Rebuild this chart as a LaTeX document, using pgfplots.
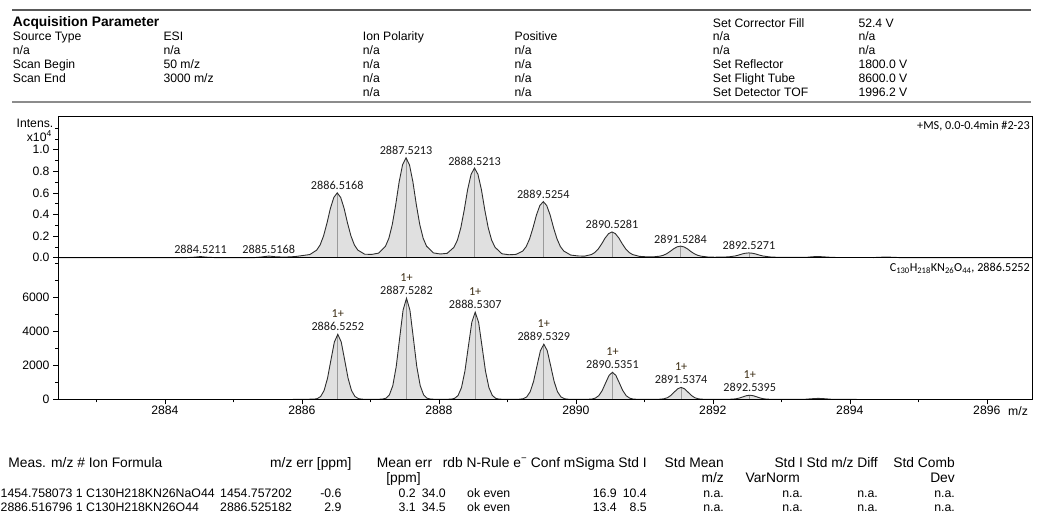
\documentclass[border=0pt]{standalone}
\usepackage{fontspec}
\setmainfont{Liberation Sans}
\newfontfamily\carl{Carlito}
\usepackage{pgfplots}
\usepackage{pgfplotstable}
\pgfplotsset{compat=1.18}

\definecolor{specline}{HTML}{2E2E2E}
\definecolor{specfill}{HTML}{E0E0E0}
\definecolor{stick}{HTML}{9A9A9A}
\definecolor{plusc}{HTML}{3C2D14}

% measured spectrum, intensity x10^4
\pgfplotstableread{
x y
2882.44 0
2884.30 0
2884.42 0.004
2884.52 0.010
2884.62 0.004
2884.75 0
2885.30 0
2885.42 0.007
2885.52 0.015
2885.62 0.008
2885.75 0.005
2885.90 0.010
2886.017 0.020
2886.117 0.029
2886.217 0.070
2886.267 0.118
2886.317 0.201
2886.367 0.320
2886.417 0.457
2886.467 0.558
2886.517 0.600
2886.567 0.558
2886.617 0.457
2886.667 0.320
2886.717 0.201
2886.767 0.118
2886.817 0.070
2886.917 0.032
2887.019 0.030
2887.121 0.042
2887.221 0.106
2887.271 0.180
2887.321 0.309
2887.371 0.493
2887.421 0.704
2887.471 0.861
2887.521 0.925
2887.571 0.861
2887.621 0.704
2887.671 0.493
2887.721 0.309
2887.771 0.180
2887.821 0.106
2887.921 0.044
2888.021 0.034
2888.121 0.040
2888.221 0.096
2888.271 0.162
2888.321 0.277
2888.371 0.442
2888.421 0.632
2888.471 0.772
2888.521 0.830
2888.571 0.772
2888.621 0.632
2888.671 0.442
2888.721 0.277
2888.771 0.162
2888.821 0.096
2888.921 0.036
2889.023 0.027
2889.125 0.030
2889.225 0.061
2889.275 0.102
2889.325 0.174
2889.375 0.277
2889.425 0.395
2889.475 0.483
2889.525 0.519
2889.575 0.483
2889.625 0.395
2889.675 0.277
2889.725 0.174
2889.775 0.102
2889.825 0.061
2889.925 0.024
2890.027 0.016
2890.128 0.014
2890.228 0.029
2890.278 0.048
2890.328 0.081
2890.378 0.128
2890.428 0.182
2890.478 0.222
2890.528 0.238
2890.578 0.222
2890.628 0.182
2890.678 0.128
2890.728 0.081
2890.778 0.048
2890.828 0.029
2890.928 0.012
2891.028 0.008
2891.128 0.007
2891.228 0.014
2891.278 0.022
2891.328 0.037
2891.378 0.058
2891.428 0.082
2891.478 0.100
2891.528 0.107
2891.578 0.100
2891.628 0.082
2891.678 0.058
2891.728 0.037
2891.778 0.022
2891.828 0.014
2891.928 0.006
2892.028 0.004
2892.227 0.007
2892.327 0.016
2892.377 0.024
2892.427 0.034
2892.477 0.041
2892.527 0.044
2892.577 0.041
2892.627 0.034
2892.677 0.024
2892.727 0.016
2892.827 0.007
2892.950 0.003
2893.350 0.002
2893.450 0.008
2893.530 0.011
2893.610 0.008
2893.750 0.002
2894.350 0.001
2894.450 0.004
2894.530 0.006
2894.610 0.004
2894.750 0
2896.66 0
}\measured

% simulated pattern for C130H218KN26O44
\pgfplotstableread{
x y
2885.87 0
2886.175 8
2886.225 42
2886.275 168
2886.325 517
2886.375 1240
2886.425 2317
2886.475 3371
2886.525 3820
2886.575 3371
2886.625 2317
2886.675 1240
2886.725 517
2886.775 168
2886.825 42
2886.875 8
2886.95 0
2887.10 0
2887.178 13
2887.228 66
2887.278 261
2887.328 804
2887.378 1929
2887.428 3603
2887.478 5242
2887.528 5940
2887.578 5242
2887.628 3603
2887.678 1929
2887.728 804
2887.778 261
2887.828 66
2887.878 13
2887.95 0
2888.10 0
2888.181 11
2888.231 57
2888.281 225
2888.331 693
2888.381 1662
2888.431 3105
2888.481 4518
2888.531 5120
2888.581 4518
2888.631 3105
2888.681 1662
2888.731 693
2888.781 225
2888.831 57
2888.881 11
2888.95 0
2889.10 0
2889.183 7
2889.233 36
2889.283 142
2889.333 438
2889.383 1052
2889.433 1965
2889.483 2859
2889.533 3240
2889.583 2859
2889.633 1965
2889.683 1052
2889.733 438
2889.783 142
2889.833 36
2889.883 7
2889.95 0
2890.11 0
2890.185 3
2890.235 18
2890.285 70
2890.335 215
2890.385 516
2890.435 964
2890.485 1403
2890.535 1590
2890.585 1403
2890.635 964
2890.685 516
2890.735 215
2890.785 70
2890.835 18
2890.885 3
2890.95 0
2891.17 0
2891.237 8
2891.287 31
2891.337 95
2891.387 227
2891.437 425
2891.487 618
2891.537 700
2891.587 618
2891.637 425
2891.687 227
2891.737 95
2891.787 31
2891.837 8
2891.90 0
2892.17 0
2892.240 3
2892.290 11
2892.340 32
2892.390 78
2892.440 146
2892.490 212
2892.540 240
2892.590 212
2892.640 146
2892.690 78
2892.740 32
2892.790 11
2892.840 3
2892.90 0
2893.34 0
2893.44 33
2893.54 55
2893.64 33
2893.74 0
2894.10 0
}\simulated

\pgfplotsset{
  specax/.style={
    scale only axis, width=974pt,
    xmin=2882.44, xmax=2896.66,
    axis line style={draw=none},
    tick align=outside, ytick pos=left, xtick pos=left,
    major tick length=5pt, minor tick length=3pt,
    tick style={black, line width=0.6pt},
    tick label style={font=\fontsize{12.2}{14}\selectfont},
    clip mode=individual,
  },
}
\tikzset{
  pk/.style={anchor=base, inner sep=0pt, yshift=3pt,
    font=\carl\fontsize{12.2}{14}\selectfont, text=black!90},
  pk1/.style={anchor=base, inner sep=0pt, yshift=3.6pt,
    font=\carl\fontsize{12.2}{14}\selectfont, text=black!90},
  pkz/.style={anchor=base, inner sep=0pt, yshift=17pt,
    font=\carl\fontsize{12.2}{14}\selectfont, text=plusc},
}

\begin{document}
\begin{tikzpicture}
\path[use as bounding box] (0,0) rectangle (1037pt,-515pt);

\begin{scope}[x=1pt, y=-1pt,
  every node/.style={inner sep=0pt, anchor=base west, font=\fontsize{12.2}{14}\selectfont}]
\draw[black!65, line width=1.3pt] (12,10) -- (1031,10);
\draw[black!45, line width=2pt] (12,102) -- (1031,102);
\node[font=\bfseries\fontsize{13.8}{16}\selectfont] at (12.7,26) {Acquisition Parameter};
\node at (712.7,27.3) {Set Corrector Fill};
\node at (858.3,27.3) {52.4 V};
% row 1
\node at (12.7,40.3) {Source Type};
\node at (163.3,40.3) {ESI};
\node at (362.7,40.3) {Ion Polarity};
\node at (514.5,40.3) {Positive};
\node at (712.7,40.3) {n/a};
\node at (858.3,40.3) {n/a};
% row 2
\node at (12.7,54.3) {n/a};
\node at (163.3,54.3) {n/a};
\node at (362.7,54.3) {n/a};
\node at (514.5,54.3) {n/a};
\node at (712.7,54.3) {n/a};
\node at (858.3,54.3) {n/a};
% row 3
\node at (12.7,68.3) {Scan Begin};
\node at (163.3,68.3) {50 m/z};
\node at (362.7,68.3) {n/a};
\node at (514.5,68.3) {n/a};
\node at (712.7,68.3) {Set Reflector};
\node at (858.3,68.3) {1800.0 V};
% row 4
\node at (12.7,82.3) {Scan End};
\node at (163.3,82.3) {3000 m/z};
\node at (362.7,82.3) {n/a};
\node at (514.5,82.3) {n/a};
\node at (712.7,82.3) {Set Flight Tube};
\node at (858.3,82.3) {8600.0 V};
% row 5
\node at (362.7,96.3) {n/a};
\node at (514.5,96.3) {n/a};
\node at (712.7,96.3) {Set Detector TOF};
\node at (858.3,96.3) {1996.2 V};

% y label of the spectrum
\node[anchor=base east] at (53.5,127.5) {Intens.};
\node[anchor=base east] at (52,141) {x10\textsuperscript{4}};
\node at (1008,415) {m/z};

% results table
\begin{scope}[every node/.append style={font=\fontsize{13.8}{16}\selectfont}]
\node at (8.3,467) {Meas. m/z \# Ion Formula};
\node[anchor=base east] at (351.7,467) {m/z err [ppm]};
\node at (376.7,467) {Mean err};
\node[anchor=base east] at (647,467) {rdb N-Rule e\textsuperscript{−} Conf mSigma Std I};
\node[anchor=base east] at (724,467) {Std Mean};
\node[anchor=base east] at (878,467) {Std I Std m/z Diff};
\node[anchor=base east] at (955,467) {Std Comb};
\node[anchor=base east] at (421,482) {[ppm]};
\node[anchor=base east] at (724,482) {m/z};
\node[anchor=base east] at (800,482) {VarNorm};
\node[anchor=base east] at (955,482) {Dev};
\end{scope}
\begin{scope}[every node/.append style={font=\fontsize{12.3}{14}\selectfont}]
\node at (0.5,497.5) {1454.758073 1 C130H218KN26NaO44};
\node at (220,497.5) {1454.757202};
\node[anchor=base east] at (341.7,497.5) {-0.6};
\node[anchor=base east] at (416,497.5) {0.2};
\node[anchor=base east] at (446,497.5) {34.0};
\node at (467,497.5) {ok even};
\node[anchor=base east] at (617,497.5) {16.9};
\node[anchor=base east] at (647,497.5) {10.4};
\node[anchor=base east] at (724,497.5) {n.a.};
\node[anchor=base east] at (803,497.5) {n.a.};
\node[anchor=base east] at (878,497.5) {n.a.};
\node[anchor=base east] at (955,497.5) {n.a.};
\node at (0.5,511.5) {2886.516796 1 C130H218KN26O44};
\node at (220,511.5) {2886.525182};
\node[anchor=base east] at (341.7,511.5) {2.9};
\node[anchor=base east] at (416,511.5) {3.1};
\node[anchor=base east] at (446,511.5) {34.5};
\node at (467,511.5) {ok even};
\node[anchor=base east] at (617,511.5) {13.4};
\node[anchor=base east] at (647,511.5) {8.5};
\node[anchor=base east] at (724,511.5) {n.a.};
\node[anchor=base east] at (803,511.5) {n.a.};
\node[anchor=base east] at (878,511.5) {n.a.};
\node[anchor=base east] at (955,511.5) {n.a.};
\end{scope}
\end{scope}

% measured spectrum
\begin{axis}[specax, at={(58pt,-261pt)}, anchor=south west, height=145pt,
  ymin=-0.031, ymax=1.312,
  xtick=\empty,
  ytick={0,0.2,0.4,0.6,0.8,1.0},
  yticklabels={0.0,0.2,0.4,0.6,0.8,1.0},
  minor ytick={0.1,0.3,0.5,0.7,0.9,1.1,1.2},
]
\addplot[fill=specfill, draw=none] table {\measured} \closedcycle;
\addplot[ycomb, stick, line width=0.7pt, mark=none] coordinates {
  (2886.517,0.600) (2887.521,0.925) (2888.521,0.830) (2889.525,0.519)
  (2890.528,0.238) (2891.528,0.107) (2892.527,0.044)};
\addplot[specline, line width=0.9pt, mark=none] table {\measured};
\draw[black, line width=0.6pt] (rel axis cs:0,0) -- (rel axis cs:0,1)
  -- (rel axis cs:1,1) -- (rel axis cs:1,0);
\draw[black, line width=1.1pt] (axis cs:2882.44,0) -- (axis cs:2896.66,0);
\node[pk] at (axis cs:2884.5211,0.010) {2884.5211};
\node[pk] at (axis cs:2885.5168,0.015) {2885.5168};
\node[pk] at (axis cs:2886.5168,0.600) {2886.5168};
\node[pk] at (axis cs:2887.5213,0.925) {2887.5213};
\node[pk] at (axis cs:2888.5213,0.830) {2888.5213};
\node[pk] at (axis cs:2889.5254,0.519) {2889.5254};
\node[pk] at (axis cs:2890.5281,0.238) {2890.5281};
\node[pk] at (axis cs:2891.5284,0.107) {2891.5284};
\node[pk] at (axis cs:2892.5271,0.044) {2892.5271};
\node[anchor=base east, inner sep=0pt, font=\carl\fontsize{12.2}{14}\selectfont]
  at ([xshift=-2pt, yshift=-13.5pt]rel axis cs:1,1) {+MS, 0.0-0.4min \#2-23};
\end{axis}

% simulated isotope pattern
\begin{axis}[specax, at={(58pt,-399.3pt)}, anchor=south west, height=138.3pt,
  ymin=0, ymax=8130,
  xtick={2884,2886,2888,2890,2892,2894,2896},
  xticklabels={2884,2886,2888,2890,2892,2894,2896},
  minor xtick={2883,2885,2887,2889,2891,2893,2895},
  ytick={0,2000,4000,6000},
  yticklabels={0,2000,4000,6000},
  minor ytick={1000,3000,5000,7000,8000},
  xticklabel style={inner sep=1.5pt},
]
\addplot[fill=specfill, draw=none] table {\simulated} \closedcycle;
\addplot[ycomb, stick, line width=0.7pt, mark=none] coordinates {
  (2886.525,3820) (2887.528,5940) (2888.531,5120) (2889.533,3240)
  (2890.535,1590) (2891.537,700) (2892.540,240)};
\addplot[specline, line width=0.9pt, mark=none] table {\simulated};
\draw[black, line width=0.6pt] (rel axis cs:0,1) -- (rel axis cs:0,0)
  -- (rel axis cs:1,0) -- (rel axis cs:1,1);
\node[pk1] at (axis cs:2886.5252,3820) {2886.5252};
\node[pk1] at (axis cs:2887.5282,5940) {2887.5282};
\node[pk1] at (axis cs:2888.5307,5120) {2888.5307};
\node[pk1] at (axis cs:2889.5329,3240) {2889.5329};
\node[pk1] at (axis cs:2890.5351,1590) {2890.5351};
\node[pk1] at (axis cs:2891.5374,700) {2891.5374};
\node[pk1] at (axis cs:2892.5395,240) {2892.5395};
\node[pkz] at (axis cs:2886.5252,3820) {1+};
\node[pkz] at (axis cs:2887.5282,5940) {1+};
\node[pkz] at (axis cs:2888.5307,5120) {1+};
\node[pkz] at (axis cs:2889.5329,3240) {1+};
\node[pkz] at (axis cs:2890.5351,1590) {1+};
\node[pkz] at (axis cs:2891.5374,700) {1+};
\node[pkz] at (axis cs:2892.5395,240) {1+};
\node[anchor=base east, inner sep=0pt, font=\carl\fontsize{12.2}{14}\selectfont]
  at ([xshift=-2pt, yshift=-10.5pt]rel axis cs:1,1)
  {C\textsubscript{130}H\textsubscript{218}KN\textsubscript{26}O\textsubscript{44}, 2886.5252};
\end{axis}
\end{tikzpicture}
\end{document}
